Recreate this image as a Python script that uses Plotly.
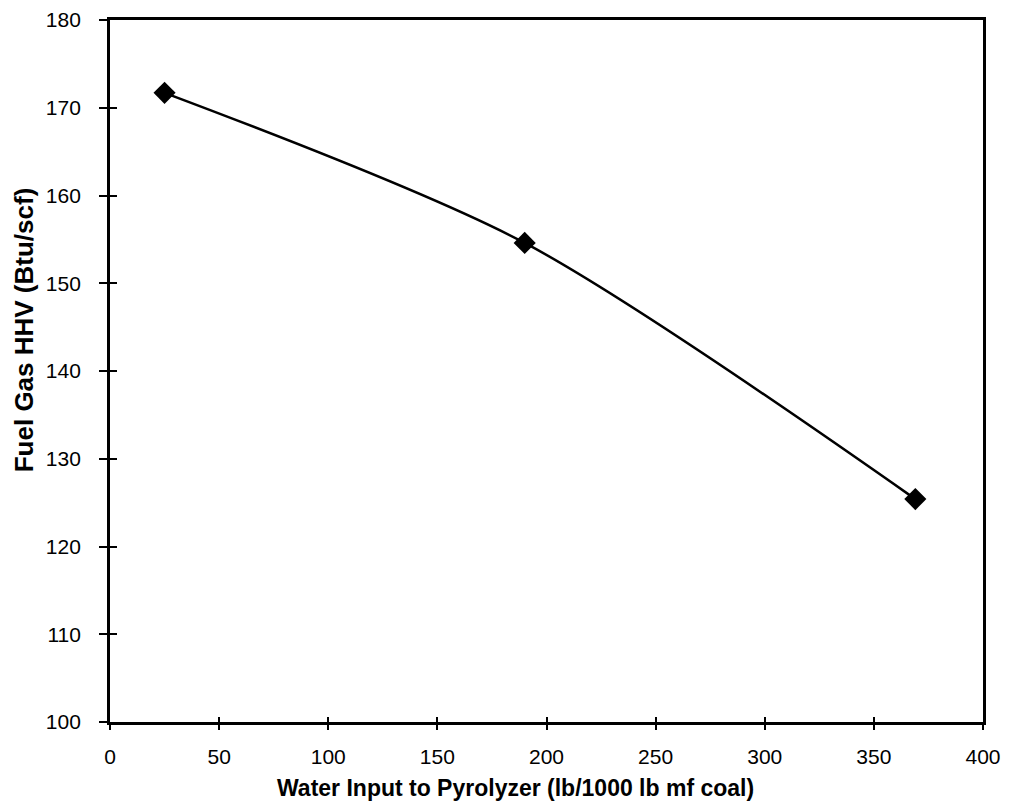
import plotly.graph_objects as go

water_input = [25, 190, 369]
fuel_gas_hhv = [171.7, 154.6, 125.4]

x_ticks = [0, 50, 100, 150, 200, 250, 300, 350, 400]
y_ticks = [100, 110, 120, 130, 140, 150, 160, 170, 180]

x_title = "Water Input to Pyrolyzer (lb/1000 lb mf coal)"
y_title = "Fuel Gas HHV (Btu/scf)"

FONT = "Liberation Sans, Arial, sans-serif"

fig = go.Figure()
fig.add_trace(go.Scatter(
    x=water_input, y=fuel_gas_hhv,
    mode="lines+markers",
    line=dict(color="black", width=2.5, shape="spline", smoothing=0.8),
    marker=dict(symbol="diamond", size=17, color="black"),
    showlegend=False,
))
# invisible copy on overlay axes to get inward tick marks
fig.add_trace(go.Scatter(
    x=water_input, y=fuel_gas_hhv, xaxis="x2", yaxis="y2",
    mode="markers", marker=dict(opacity=0), hoverinfo="skip", showlegend=False,
))

axis_common = dict(
    showline=True, linecolor="black", linewidth=2.8, mirror=True,
    showgrid=False, zeroline=False, automargin=False,
    ticks="outside", tickcolor="black", tickwidth=1.5,
    tickfont=dict(family=FONT, size=21, color="black"),
)

fig.update_layout(
    xaxis=dict(**axis_common, range=[0, 400], tickvals=x_ticks,
               ticklen=5, ticklabelstandoff=9),
    yaxis=dict(**axis_common, range=[100, 180], tickvals=y_ticks,
               ticklen=8, ticklabelstandoff=14),
    xaxis2=dict(overlaying="x", range=[0, 400], tickvals=x_ticks, ticks="inside",
                ticklen=5, tickwidth=1.5, tickcolor="black", showticklabels=False,
                showgrid=False, zeroline=False, showline=False, side="bottom",
                automargin=False),
    yaxis2=dict(overlaying="y", range=[100, 180], tickvals=y_ticks, ticks="inside",
                ticklen=7, tickwidth=1.5, tickcolor="black", showticklabels=False,
                showgrid=False, zeroline=False, showline=False, side="left",
                automargin=False),
    annotations=[
        dict(text="<b>" + x_title + "</b>", xref="paper", yref="paper",
             x=0.465, y=-0.094, xanchor="center", yanchor="middle", showarrow=False,
             font=dict(family=FONT, size=23, color="black")),
        dict(text="<b>" + y_title + "</b>", xref="paper", yref="paper",
             x=-0.0985, y=0.558, xanchor="center", yanchor="middle", showarrow=False,
             textangle=-90, font=dict(family=FONT, size=26, color="black")),
    ],
    width=1001, height=796,
    margin=dict(l=102, r=26, t=12, b=82),
    plot_bgcolor="white", paper_bgcolor="white",
)

fig.write_html("out.html")
